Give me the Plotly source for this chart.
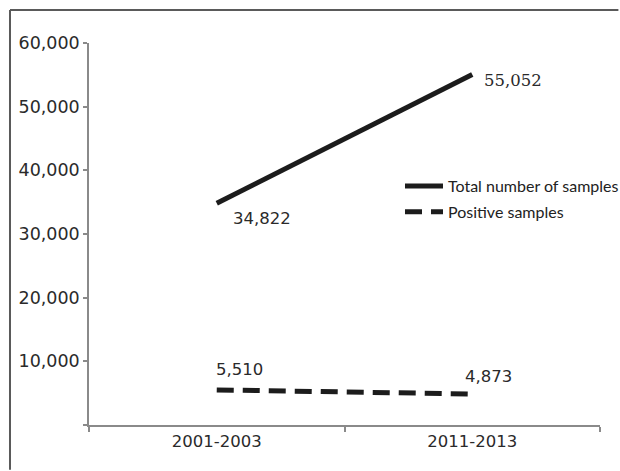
import plotly.graph_objects as go

# Sample counts per survey period
periods = ["2001-2003", "2011-2013"]
total_samples = [34822, 55052]
positive_samples = [5510, 4873]
y_ticks = [0, 10000, 20000, 30000, 40000, 50000, 60000]
y_tick_labels = ["", "10,000", "20,000", "30,000", "40,000", "50,000", "60,000"]

INK = "#1c1c1c"
AXIS = "#8a8a8a"
TEXT = "#2a2a2a"
FRAME = "#5a5a5a"

fig = go.Figure()
fig.add_trace(go.Scatter(
    x=periods, y=total_samples, mode="lines", name="Total number of samples",
    line=dict(color=INK, width=5), legendgroup="a", hoverinfo="skip",
))
fig.add_trace(go.Scatter(
    x=periods, y=positive_samples, mode="lines", name="Positive samples",
    line=dict(color=INK, width=5, dash="17px,9px"), legendgroup="b", hoverinfo="skip",
))

def fmt(v):
    return f"{v:,}"

# value labels placed next to each end point
label_specs = [
    (periods[0], total_samples[0], "center", 45, -15, "DejaVu Sans"),
    (periods[1], total_samples[1], "left", 10, -6, "DejaVu Serif"),
    (periods[0], positive_samples[0], "left", -3, 20, "DejaVu Sans"),
    (periods[1], positive_samples[1], "left", -9, 17, "DejaVu Sans"),
]
for x, v, anchor, dx, dy, fam in label_specs:
    fig.add_annotation(
        x=x, y=v, text=fmt(v), showarrow=False, xanchor=anchor, yanchor="middle",
        xshift=dx, yshift=dy, font=dict(family=fam, size=16.5, color=TEXT),
    )

# frame edges (top and left), kept inside the page
fig.add_shape(type="line", xref="paper", yref="paper", x0=-0.1546, x1=1.036, y0=1.0864, y1=1.0864,
              line=dict(color=FRAME, width=2), layer="below")
fig.add_shape(type="line", xref="paper", yref="paper", x0=-0.1546, x1=-0.1546, y0=-0.117, y1=1.0864,
              line=dict(color=FRAME, width=2), layer="below")

fig.update_layout(
    width=620, height=471,
    margin=dict(l=89, r=20, t=43, b=46, autoexpand=False),
    paper_bgcolor="white", plot_bgcolor="white",
    showlegend=True,
    legend=dict(
        x=0.6086, y=0.67, xanchor="left", yanchor="top",
        bgcolor="rgba(0,0,0,0)", tracegroupgap=2, itemwidth=38,
        font=dict(family="Lato", size=16, color="#222222"),
    ),
    xaxis=dict(
        type="category", range=[-0.5, 1.5], showline=True, linecolor=AXIS, linewidth=1.5,
        ticks="outside", tickson="boundaries", ticklen=5, tickcolor=AXIS, tickwidth=1.5,
        showgrid=False, zeroline=False, tickfont=dict(family="DejaVu Sans", size=16.5, color=TEXT),
    ),
    yaxis=dict(
        range=[0, 60000], tickvals=y_ticks, ticktext=y_tick_labels,
        showline=True, linecolor=AXIS, linewidth=1.5,
        ticks="outside", ticklen=4, tickcolor=AXIS, tickwidth=1.5,
        showgrid=False, zeroline=False, tickfont=dict(family="DejaVu Sans", size=17.5, color=TEXT),
    ),
)

fig.write_html("out.html")
